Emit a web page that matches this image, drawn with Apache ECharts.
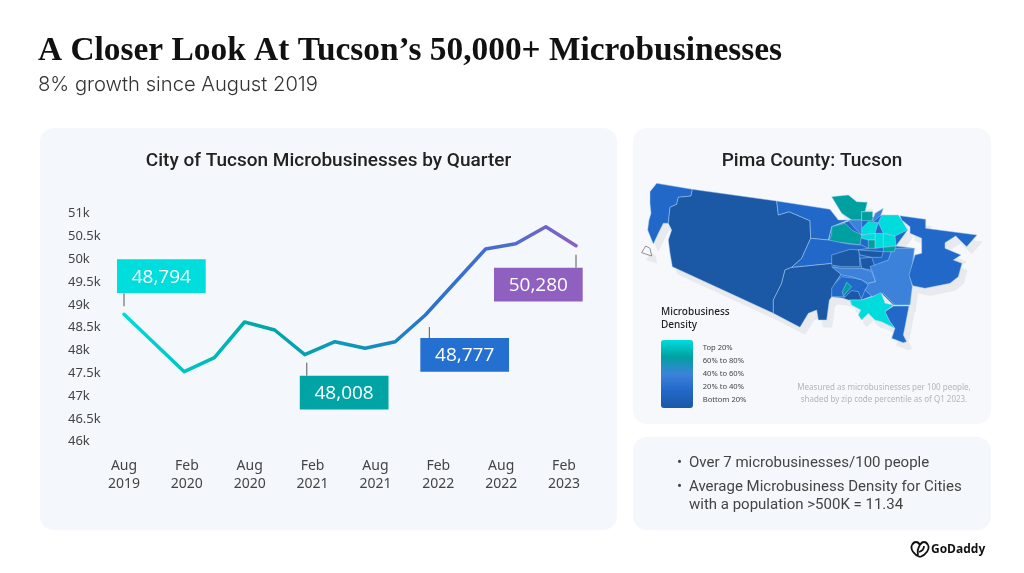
<!DOCTYPE html>
<html>
<head>
    <meta charset="UTF-8">
    <title>Tucson Microbusinesses</title>
    <script type="text/javascript" src="https://cdn.jsdelivr.net/npm/echarts@6/dist/echarts.min.js"></script>
    <style>
        html, body { margin: 0; padding: 0; background: #fff; }
        #main { width: 1024px; height: 573px; }
    </style>
</head>
<body>
<div id="main"></div>
<script type="text/javascript">
    // quarterly values, two quarters are missing in the source line
    var quarters = ['Aug19','Nov19','Feb20','May20','Aug20','Nov20','Feb21','May21','Aug21','Nov21','Feb22','May22','Aug22','Nov22','Feb23','May23'];
    var microbusinesses = [48794,null,47535,47842,48625,48450,47908,48193,48048,48193,48778,null,50226,50342,50715,50298];
    var tickLabels = ['Aug\n2019','Feb\n2020','Aug\n2020','Feb\n2021','Aug\n2021','Feb\n2022','Aug\n2022','Feb\n2023'];

    var calloutQuarter = ['Aug19','Feb21','Feb22','May23'];
    var calloutText = ['48,794','48,008','48,777','50,280'];

    // map zones: percentile bucket per zone (null = outline only)
    var zipNames = ['center base','west strip','west','south central','north band','north teal','north small','north diag','ne bright','mid west teal','mid band','center a','center b','center c','south light','east light','south small','south sliver','south dark','south bright','southeast','east','ne cell a','ne cell b','ne cell c','ne cell d','teal cell a','teal cell b','diag blue','bell'];
    var zipValues = [25,25,0,0,25,75,75,50,100,75,25,0,0,0,50,50,25,75,0,100,25,25,100,100,100,100,75,75,50,null];

    var legendLabels = ['Top 20%','60% to 80%','40% to 60%','20% to 40%','Bottom 20%'];
    var densityColors = ['#1b58a5','#2268c8','#3c82da','#00a0a0','#00dcdc'];

    // zone outlines
    var zipShapes = [
        [[590,170],[650,150],[680,150],[740,135],[818,180],[783,228],[838,235],[825,405],[775,405],[738,368],[680,390],[625,385],[590,380],[600,340],[620,310],[590,285],[590,255],[610,255],[580,215]],
        [[65,40],[172,58],[168,78],[130,82],[125,103],[105,112],[100,160],[85,160],[70,190],[55,222],[48,205],[38,180],[42,150],[48,130],[45,100],[45,65]],
        [[172,58],[425,93],[430,135],[462,125],[525,152],[527,205],[500,265],[470,292],[450,300],[440,340],[415,390],[415,430],[112,290],[105,250],[100,210],[110,180],[100,160],[105,112],[125,103],[130,82],[168,78]],
        [[450,300],[470,292],[590,280],[620,310],[600,340],[590,380],[583,390],[575,450],[550,450],[545,420],[520,430],[495,472],[415,430],[415,390],[440,340]],
        [[425,93],[585,118],[610,150],[640,150],[590,170],[580,210],[527,205],[525,152],[462,125],[430,135]],
        [[590,80],[640,75],[665,95],[697,97],[690,125],[680,125],[680,150],[650,150],[620,130]],
        [[680,125],[713,125],[713,152],[680,152]],
        [[713,152],[720,130],[745,115],[738,135],[715,155]],
        [[740,135],[790,135],[800,150],[818,180],[780,198],[745,190],[730,158]],
        [[590,170],[630,160],[650,180],[680,195],[675,225],[640,220],[580,215],[590,195]],
        [[470,292],[500,265],[527,205],[580,210],[640,222],[680,225],[700,235],[670,240],[610,255],[590,280]],
        [[590,255],[645,238],[672,240],[675,290],[620,290],[590,285]],
        [[675,265],[710,262],[720,290],[710,300],[680,295]],
        [[670,240],[745,245],[740,262],[710,262],[675,255]],
        [[590,290],[620,295],[680,295],[710,305],[722,335],[700,340],[680,330],[650,320],[620,315]],
        [[705,290],[760,270],[770,240],[785,235],[838,235],[830,300],[825,320],[832,350],[825,405],[780,405],[745,370],[712,380],[690,360],[700,340],[722,335],[712,305]],
        [[600,340],[620,320],[660,325],[680,330],[700,345],[690,360],[680,385],[650,380],[620,380],[590,380],[590,355]],
        [[635,337],[650,350],[625,378],[622,365]],
        [[625,385],[650,362],[670,365],[680,390],[640,390]],
        [[645,390],[680,390],[712,380],[738,368],[750,400],[775,405],[750,425],[765,455],[780,475],[740,455],[720,450],[700,430],[680,450],[670,435],[678,420],[650,405]],
        [[775,408],[822,408],[810,470],[805,495],[815,515],[805,518],[770,505],[780,475],[765,455],[750,425]],
        [[795,137],[872,148],[872,175],[1026,195],[995,230],[962,198],[930,218],[930,235],[978,255],[955,270],[981,280],[970,320],[945,340],[870,355],[833,347],[822,315],[840,255],[860,250],[860,205],[825,190],[825,170],[800,150]],
        [[680,175],[700,155],[730,158],[720,190],[680,195]],
        [[720,190],[745,190],[745,232],[720,235]],
        [[745,190],[780,198],[783,228],[745,232]],
        [[680,195],[720,190],[720,210],[700,210],[680,205]],
        [[745,232],[783,228],[778,245],[745,245]],
        [[700,210],[720,210],[720,235],[700,235]],
        [[640,150],[680,150],[680,195],[660,175]],
        [[20,248],[32,228],[45,235],[50,258]]
    ];

    var mapBox = { x0: 1e9, y0: 1e9, x1: -1e9, y1: -1e9 };
    zipShapes.forEach(function (ring) {
        ring.forEach(function (p) {
            mapBox.x0 = Math.min(mapBox.x0, p[0]);
            mapBox.x1 = Math.max(mapBox.x1, p[0]);
            mapBox.y0 = Math.min(mapBox.y0, p[1]);
            mapBox.y1 = Math.max(mapBox.y1, p[1]);
        });
    });

    var pimaGeo = {
        type: 'FeatureCollection',
        features: zipShapes.map(function (ring, i) {
            var flipped = ring.map(function (p) { return [p[0], -p[1]]; });
            flipped.push(flipped[0]);
            return {
                type: 'Feature',
                properties: { name: zipNames[i] },
                geometry: { type: 'Polygon', coordinates: [flipped] }
            };
        })
    };
    // series on the same map name get merged, so the shadow needs its own name
    echarts.registerMap('pima', pimaGeo);
    echarts.registerMap('pimaShadow', JSON.parse(JSON.stringify(pimaGeo)));

    var mapLeft = 635 + mapBox.x0 / 3;
    var mapTop = 170 + mapBox.y0 / 3;
    var mapWidth = (mapBox.x1 - mapBox.x0) / 3;
    var mapHeight = (mapBox.y1 - mapBox.y0) / 3;

    var calloutBoxes = [
        { dx: -7, dy: -55, lineX: 0, lineA: -8, lineB: -21, fill: '#00dddd' },
        { dx: -5, dy: 21, lineX: 2, lineA: 8, lineB: 21, fill: '#00a4a4' },
        { dx: -5, dy: 23, lineX: 4, lineA: 12, lineB: 23, fill: '#2470d0' },
        { dx: -82, dy: 22, lineX: 0, lineA: 9, lineB: 22, fill: '#8f60c0' }
    ];

    function panel(x, y, w, h, fill) {
        return { type: 'rect', shape: { x: x, y: y, width: w, height: h, r: 14 }, style: { fill: fill } };
    }
    function label(x, y, text, font, fill, align) {
        return {
            type: 'text', x: x, y: y,
            style: { text: text, font: font, fill: fill, align: align || 'left', verticalAlign: 'middle' }
        };
    }
    function curve(x1, y1, cx1, cy1, cx2, cy2, x2, y2) {
        return {
            type: 'bezierCurve',
            shape: { x1: x1, y1: y1, cpx1: cx1, cpy1: cy1, cpx2: cx2, cpy2: cy2, x2: x2, y2: y2 },
            style: { fill: null, stroke: '#111', lineWidth: 1.8 }
        };
    }

    var elements = [
        panel(40, 128, 577, 402, '#f4f7fc'),
        panel(633, 128, 358, 296, '#f6f8fb'),
        panel(633, 437, 358, 93, '#f4f7fc'),
        label(38, 51, 'A Closer Look At Tucson\u2019s 50,000+ Microbusinesses', 'bold 33.4px "Liberation Serif"', '#111'),
        label(38, 85, '8% growth since August 2019', '300 20.2px Inter', '#333'),
        label(328.5, 161, 'City of Tucson Microbusinesses by Quarter', '500 19px Roboto', '#222', 'center'),
        label(812, 161, 'Pima County: Tucson', '500 19px Roboto', '#222', 'center'),
        label(661, 312, 'Microbusiness', '500 10px "Noto Sans"', '#222'),
        label(661, 325, 'Density', '500 10px "Noto Sans"', '#222'),
        label(884, 387.5, 'Measured as microbusinesses per 100 people,', '8px "Noto Sans"', '#b2b5ba', 'center'),
        label(884, 399.5, 'shaded by zip code percentile as of Q1 2023.', '8px "Noto Sans"', '#b2b5ba', 'center'),
        label(677, 463, '\u2022', '15px Roboto', '#444'),
        label(689, 463, 'Over 7 microbusinesses/100 people', '15px Roboto', '#444'),
        label(677, 487.5, '\u2022', '15px Roboto', '#444'),
        label(689, 487.5, 'Average Microbusiness Density for Cities', '15px Roboto', '#444'),
        label(689, 505.5, 'with a population >500K = 11.34', '15px Roboto', '#444'),
        label(931, 550, 'GoDaddy', 'bold 12px "Open Sans"', '#111'),
        // logo: heart outline with an inner stroke
        curve(920, 557, 914, 555, 910, 549, 912, 545),
        curve(912, 545, 914, 541, 918, 541, 920, 545),
        curve(920, 545, 922, 541, 926, 541, 928, 545),
        curve(928, 545, 930, 549, 926, 555, 920, 557),
        curve(920, 545, 918, 548, 917, 551, 918, 555),
        curve(919, 552, 922, 551, 924, 549, 924, 546)
    ];
    legendLabels.forEach(function (t, i) {
        elements.push(label(702.7, 347.7 + i * 13, t, '7.6px "Noto Sans"', '#444'));
    });

    var zipData = zipNames.map(function (n, i) {
        if (zipValues[i] === null) {
            return { name: n, itemStyle: { areaColor: '#f6f8fb', borderColor: '#777', borderWidth: 0.8 } };
        }
        return { name: n, value: zipValues[i] };
    });

    var myChart = echarts.init(document.getElementById('main'));
    var option = {
        animation: false,
        backgroundColor: '#fff',
        graphic: { elements: elements },
        grid: [
            { left: 124, width: 452, top: 213.7, height: 228 },
            { left: 124, width: 440, top: 213.7, height: 228 }
        ],
        xAxis: [
            { type: 'category', gridIndex: 0, data: quarters, boundaryGap: false, show: false },
            {
                type: 'category', gridIndex: 1, data: tickLabels, boundaryGap: false,
                axisLine: { show: false }, axisTick: { show: false },
                axisLabel: { interval: 0, margin: 15, fontFamily: 'Noto Sans', fontSize: 14, lineHeight: 18, color: '#444' }
            }
        ],
        yAxis: [
            {
                type: 'value', gridIndex: 0, min: 46000, max: 51000, interval: 500,
                axisLine: { show: false }, axisTick: { show: false }, splitLine: { show: false },
                axisLabel: {
                    margin: 56, align: 'left', fontFamily: 'Noto Sans', fontSize: 13, color: '#444',
                    padding: [2, 0, 0, 0],
                    formatter: function (v) { return v / 1000 + 'k'; }
                }
            },
            { type: 'value', gridIndex: 1, show: false, splitLine: { show: false } }
        ],
        visualMap: {
            type: 'continuous', seriesIndex: 3, min: 0, max: 100,
            left: 661, top: 340, padding: 0, itemWidth: 32, itemHeight: 68,
            calculable: false, showLabel: false, text: null, hoverLink: false,
            inRange: { color: densityColors }
        },
        series: [
            {
                name: 'City of Tucson', type: 'line', xAxisIndex: 0, yAxisIndex: 0,
                data: microbusinesses, connectNulls: true, showSymbol: false, silent: true,
                lineStyle: {
                    width: 3.5, cap: 'round', join: 'round',
                    color: new echarts.graphic.LinearGradient(0, 0, 1, 0, [
                        { offset: 0, color: '#00dcdc' },
                        { offset: 0.3, color: '#00a8a8' },
                        { offset: 0.5, color: '#0f96bc' },
                        { offset: 0.68, color: '#2a74c8' },
                        { offset: 0.85, color: '#4d6cd0' },
                        { offset: 1, color: '#8e60c0' }
                    ])
                }
            },
            {
                type: 'custom', xAxisIndex: 0, yAxisIndex: 0, silent: true, clip: false, z: 3,
                data: calloutQuarter.map(function (q) {
                    var k = quarters.indexOf(q);
                    return [k, microbusinesses[k]];
                }),
                renderItem: function (params, api) {
                    var p = api.coord([api.value(0), api.value(1)]);
                    var b = calloutBoxes[params.dataIndex];
                    return {
                        type: 'group',
                        children: [
                            {
                                type: 'line',
                                shape: { x1: p[0] + b.lineX, y1: p[1] + b.lineA, x2: p[0] + b.lineX, y2: p[1] + b.lineB },
                                style: { stroke: '#555', lineWidth: 1 }
                            },
                            {
                                type: 'rect',
                                shape: { x: p[0] + b.dx, y: p[1] + b.dy, width: 88.7, height: 33.7 },
                                style: { fill: b.fill }
                            },
                            {
                                type: 'text', x: p[0] + b.dx + 44.3, y: p[1] + b.dy + 18,
                                style: {
                                    text: calloutText[params.dataIndex], fill: '#fff',
                                    font: '19px "Open Sans"', align: 'center', verticalAlign: 'middle'
                                }
                            }
                        ]
                    };
                }
            },
            {
                // flat grey copy of the map, shifted, gives the drop shadow
                type: 'map', map: 'pimaShadow', silent: true, aspectScale: 1, roam: false, z: 1,
                left: mapLeft + 5, top: mapTop + 7, width: mapWidth, height: mapHeight,
                data: [], label: { show: false },
                itemStyle: { areaColor: '#e8eaed', borderColor: '#e8eaed', borderWidth: 1 }
            },
            {
                type: 'map', map: 'pima', silent: true, aspectScale: 1, roam: false, z: 2,
                left: mapLeft, top: mapTop, width: mapWidth, height: mapHeight,
                data: zipData, label: { show: false },
                itemStyle: { areaColor: '#f6f8fb', borderColor: 'rgba(170,210,245,0.8)', borderWidth: 0.6 }
            }
        ]
    };
    myChart.setOption(option);
</script>
</body>
</html>
